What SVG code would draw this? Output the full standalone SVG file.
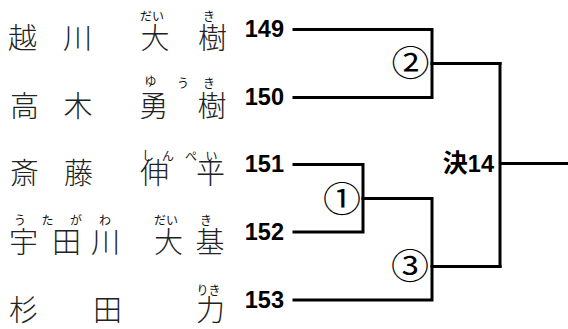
<svg xmlns="http://www.w3.org/2000/svg" width="568" height="329" viewBox="0 0 568 329">
<style>
.k{font-family:"Noto Sans CJK JP","Noto Sans CJK SC",sans-serif;font-size:29px;font-weight:300;fill:#222;text-anchor:middle}
.r{font-family:"Noto Sans CJK JP","Noto Sans CJK SC",sans-serif;font-size:12px;fill:#111;text-anchor:middle}
.n{font-family:"Liberation Sans","Noto Sans CJK JP",sans-serif;font-size:23.5px;font-weight:bold;fill:#000;text-anchor:end}
.c{font-family:"Noto Sans CJK JP","Noto Sans CJK SC",sans-serif;font-size:38px;font-weight:normal;fill:#000;text-anchor:middle}
.ln{fill:none;stroke:#000;stroke-width:3;stroke-linecap:square}
</style>
<rect width="568" height="329" fill="#fff"/>
<g id="p149">
<text class="k" x="22.5" y="48.5">越</text><text class="k" x="77.5" y="48.5">川</text><text class="k" x="155" y="48.5">大</text><text class="k" x="212.5" y="48.5">樹</text>
<text class="r" x="152" y="20.5">だい</text><text class="r" x="209" y="21">き</text>
<text class="n" x="284" y="37">149</text>
</g>
<g id="p150">
<text class="k" x="24.5" y="116.5">高</text><text class="k" x="78" y="116.5">木</text><text class="k" x="153.5" y="116.5">勇</text><text class="k" x="212" y="116.5">樹</text>
<text class="r" x="150.5" y="86">ゆ</text><text class="r" x="183" y="88">う</text><text class="r" x="209" y="88">き</text>
<text class="n" x="284" y="105">150</text>
</g>
<g id="p151">
<text class="k" x="24.5" y="184">斎</text><text class="k" x="78.5" y="184">藤</text><text class="k" x="154.5" y="184">伸</text><text class="k" x="210.5" y="184">平</text>
<text class="r" x="148" y="160">し</text><text class="r" x="168" y="160.5">ん</text><text class="r" x="191" y="160.5">ぺ</text><text class="r" x="211.5" y="160.5">い</text>
<text class="n" x="284" y="172">151</text>
</g>
<g id="p152">
<text class="k" x="23.5" y="252.5">宇</text><text class="k" x="66.5" y="252.5">田</text><text class="k" x="105.5" y="252.5">川</text><text class="k" x="168.5" y="252.5">大</text><text class="k" x="210" y="252.5">基</text>
<text class="r" x="20" y="224.5">う</text><text class="r" x="47.5" y="224.5">た</text><text class="r" x="76" y="224.5">が</text><text class="r" x="105" y="224.5">わ</text>
<text class="r" x="166" y="224.5">だい</text><text class="r" x="206" y="225">き</text>
<text class="n" x="284" y="239.5">152</text>
</g>
<g id="p153">
<text class="k" x="23.5" y="320.5">杉</text><text class="k" x="107.5" y="320.5">田</text><text class="k" x="210.5" y="320.5">力</text>
<text class="r" x="208.5" y="294.5">りき</text>
<text class="n" x="284" y="307.5">153</text>
</g>
<g id="m1"><text class="c" transform="translate(342,211.5) scale(1,0.92)">①</text></g>
<g id="m2"><text class="c" transform="translate(410.5,75.5) scale(1,0.92)">②</text></g>
<g id="m3"><text class="c" transform="translate(410,278.5) scale(1,0.92)">③</text></g>
<g id="final"><text class="n" x="494" y="171.5"><tspan font-size="25">決</tspan>14</text></g>
<g id="connectors">
<path class="ln" d="M294,29.5H432V97.5H294"/>
<path class="ln" d="M432,63.5H500"/>
<path class="ln" d="M294,164.5H363V232H294"/>
<path class="ln" d="M363,198.5H432V300H294"/>
<path class="ln" d="M432,266.5H500"/>
<path class="ln" d="M500,63.5V266.5"/>
<path d="M500,163.5H568" fill="none" stroke="#000" stroke-width="3"/>
</g>
</svg>
